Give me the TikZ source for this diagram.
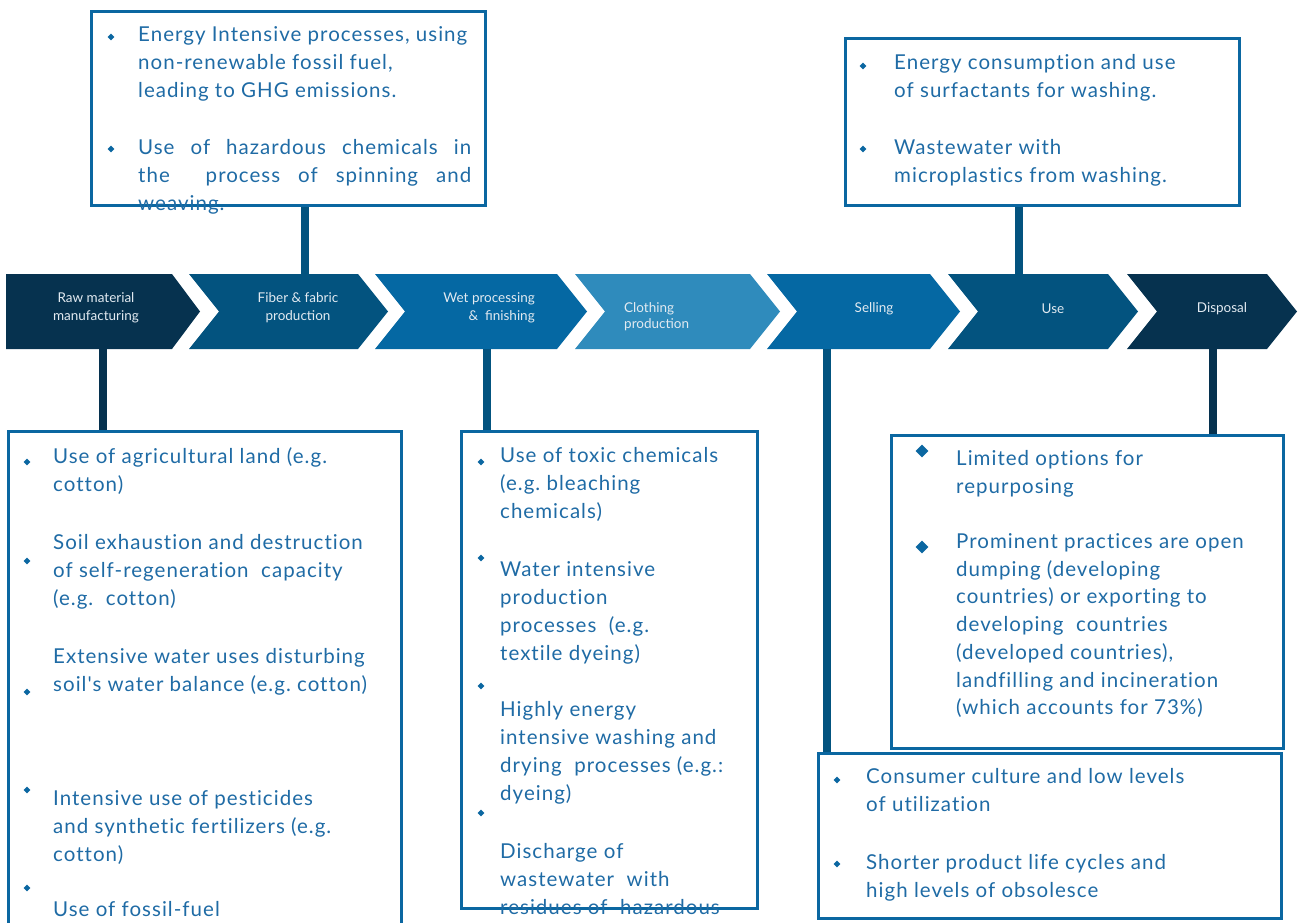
\documentclass[tikz,border=0pt]{standalone}
\usepackage{fontspec}
\setmainfont{Lato}
\newfontfamily\boxfont{Lato}[LetterSpace=5,Ligatures=NoCommon]
\usetikzlibrary{shapes.geometric}
\frenchspacing

\definecolor{navy}{HTML}{06324F}
\definecolor{deep}{HTML}{03537F}
\definecolor{mid}{HTML}{0568A3}
\definecolor{light}{HTML}{2F8BBC}
\definecolor{edge}{HTML}{0B67A1}
\definecolor{txtblue}{HTML}{1F6BA5}
\definecolor{lbl}{HTML}{E2EAF1}

\begin{document}
\begin{tikzpicture}[x=1pt,y=-1pt]
    % Styles for stages, boxes and lines
    \tikzset{
      stage/.style={text=lbl, inner sep=0pt, font=\fontsize{13.5}{18}\selectfont},
      box/.style={rectangle, draw=edge, line width=3.4pt, inner sep=0pt},
      item/.style={anchor=base west, align=left, inner sep=0pt, text=txtblue, font=\boxfont\fontsize{20.5}{28}\selectfont},
      bul/.style={diamond, fill=edge, inner sep=0pt, minimum size=7pt},
      link/.style={line width=8pt}
    }
    \useasboundingbox (0,0) rectangle (1301,923);
    \clip (0,0) rectangle (1301,923);

    % Value chain
    \fill[navy] (6,274) -- (172,274) -- (200,311.5) -- (172,349) -- (6,349) -- cycle;
    \fill[deep] (189,274) -- (358,274) -- (388,311.5) -- (358,349) -- (189,349) -- (219,311.5) -- cycle;
    \fill[mid] (375,274) -- (557,274) -- (587,311.5) -- (557,349) -- (375,349) -- (405,311.5) -- cycle;
    \fill[light] (575,274) -- (750,274) -- (780,311.5) -- (750,349) -- (575,349) -- (605,311.5) -- cycle;
    \fill[mid] (767,274) -- (930,274) -- (960,311.5) -- (930,349) -- (767,349) -- (797,311.5) -- cycle;
    \fill[deep] (948,274) -- (1108,274) -- (1138,311.5) -- (1108,349) -- (948,349) -- (978,311.5) -- cycle;
    \fill[navy] (1127,274) -- (1267,274) -- (1297,311.5) -- (1267,349) -- (1127,349) -- (1157,311.5) -- cycle;

    \node[stage, align=center] (raw) at (96,308) {Raw material\\manufacturing};
    \node[stage, align=center] (fiber) at (298,308) {Fiber \& fabric\\production};
    \node[stage, align=right, anchor=east] (wet) at (535,308) {Wet processing\\\& \ finishing};
    \node[stage, align=left, anchor=west, font=\fontsize{13.5}{16}\selectfont] (cloth) at (624,317) {Clothing\\production};
    \node[stage] (sell) at (874,309) {Selling};
    \node[stage] (use) at (1053,309) {Use};
    \node[stage] (disp) at (1222,309) {Disposal};

    % Connector ends on the stages
    \coordinate (rawout) at (103,349);
    \coordinate (fibout) at (305,274);
    \coordinate (wetout) at (487,349);
    \coordinate (sellout) at (827,349);
    \coordinate (useout) at (1019,274);
    \coordinate (dispout) at (1213,349);

    % Impact boxes
    \node[box, minimum width=393.6pt, minimum height=193.6pt] (fibbox) at (288.5,108.5) {};
    \node[box, minimum width=393.6pt, minimum height=166.6pt] (usebox) at (1042.5,122) {};
    \node[box, minimum width=392.6pt, minimum height=508.3pt] (rawbox) at (205,685.85) {};
    \node[box, minimum width=295.6pt, minimum height=476.6pt] (wetbox) at (609.5,670) {};
    \node[box, minimum width=391.6pt, minimum height=312.6pt] (dispbox) at (1087.5,592) {};
    \node[box, minimum width=462.6pt, minimum height=164.6pt] (sellbox) at (1050,836) {};

    % Lines from stages to boxes
    \draw[link, navy] (rawout) -- (rawout |- rawbox.north);
    \draw[link, deep] (fibout) -- (fibout |- fibbox.south);
    \draw[link, deep] (wetout) -- (wetout |- wetbox.north);
    \draw[link, deep] (sellout) -- (sellout |- sellbox.north);
    \draw[link, deep] (useout) -- (useout |- usebox.south);
    \draw[link, navy] (dispout) -- (dispout |- dispbox.north);

    % Fiber & fabric (items placed by the baseline of their last line)
    \node[bul] (fb1) at (111,37) {};
    \node[bul] (fb2) at (111,149) {};
    \node[item] (ft1) at (138,97.5) {Energy Intensive processes, using\\non-renewable fossil fuel,\\leading to GHG emissions.};
    \node[item] (ft2) at (138,210.5) {\makebox[333pt][s]{Use of hazardous chemicals in}\\\makebox[333pt][s]{the \ process of spinning and}\\weaving.};

    % Use
    \node[bul] (ub1) at (863,66) {};
    \node[bul] (ub2) at (863,149) {};
    \node[item] (ut1) at (894,97.5) {Energy consumption and use\\of surfactants for washing.};
    \node[item] (ut2) at (894,182.5) {Wastewater with\\microplastics from washing.};

    % Raw material
    \node[bul] (rb1) at (27,462) {};
    \node[bul] (rb2) at (27,561) {};
    \node[bul] (rb3) at (27,692) {};
    \node[bul] (rb4) at (27,790) {};
    \node[bul] (rb5) at (27,888) {};
    \node[item] (rt1) at (53,491.5) {Use of agricultural land (e.g.\\cotton)};
    \node[item] (rt2) at (53,605.5) {Soil exhaustion and destruction\\of self-regeneration \ capacity\\(e.g. \ cotton)};
    \node[item] (rt3) at (53,691.5) {Extensive water uses disturbing\\soil's water balance (e.g. cotton)};
    \node[item] (rt4) at (53,861.5) {Intensive use of pesticides\\and synthetic fertilizers (e.g.\\cotton)};
    \node[item] (rt5) at (53,916.5) {Use of fossil-fuel};

    % Wet processing
    \node[bul] (wb1) at (481,462) {};
    \node[bul] (wb2) at (481,558) {};
    \node[bul] (wb3) at (481,686) {};
    \node[bul] (wb4) at (481,813) {};
    \node[item] (wt1) at (500,518.5) {Use of toxic chemicals\\(e.g. bleaching\\chemicals)};
    \node[item] (wt2) at (500,660.5) {Water intensive\\production\\processes \ (e.g.\\textile dyeing)};
    \node[item] (wt3) at (500,800.5) {Highly energy\\intensive washing and\\drying \ processes (e.g.:\\dyeing)};
    \node[item] (wt4) at (500,914.5) {Discharge of\\wastewater \ with\\residues of \ hazardous};

    % Disposal
    \node[bul, minimum size=13pt] (db1) at (922,451) {};
    \node[bul, minimum size=13pt] (db2) at (922,547) {};
    \node[item] (dt1) at (956,493.5) {Limited options for\\repurposing};
    \node[item, font=\boxfont\fontsize{20.5}{27.7}\selectfont] (dt2) at (956,714.7) {Prominent practices are open\\dumping (developing\\countries) or exporting to\\developing \ countries\\(developed countries),\\landfilling and incineration\\(which accounts for 73\%)};

    % Selling
    \node[bul] (sb1) at (837,780) {};
    \node[bul] (sb2) at (837,864) {};
    \node[item] (st1) at (866,811.5) {Consumer culture and low levels\\of utilization};
    \node[item] (st2) at (866,897.5) {Shorter product life cycles and\\high levels of obsolesce};
\end{tikzpicture}
\end{document}
